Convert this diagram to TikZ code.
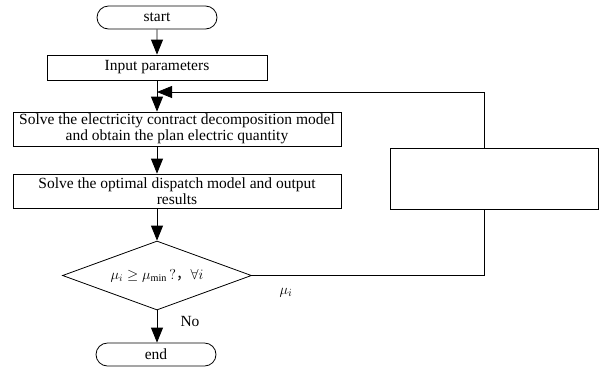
\documentclass[tikz,border=0pt]{standalone}
\usepackage{fontspec}
\setmainfont{Liberation Serif}
\newfontfamily\cjk{Noto Sans CJK SC}
\usetikzlibrary{arrows.meta,shapes.geometric,shapes.misc}
\begin{document}
\begin{tikzpicture}[x=1pt,y=-1pt,
  every node/.style={font=\fontsize{15.5}{16}\selectfont, inner sep=0pt},
  term/.style={draw, rounded rectangle, minimum width=120pt, minimum height=23pt, line width=0.8pt},
  procbox/.style={draw, rectangle, line width=0.8pt, align=center},
  decide/.style={draw, diamond, aspect=2.7, minimum width=189pt, minimum height=69pt, line width=0.8pt},
  conn/.style={line width=0.8pt},
  arr/.style={line width=0.8pt, -{Triangle[length=15pt,width=12pt]}}]
\useasboundingbox (0,0) rectangle (609,368);
\node[term] (start) at (157,17.5) {start};
\node[procbox, minimum width=220pt, minimum height=25pt] (input) at (157,67.5) {Input parameters};
\node[procbox, minimum width=328pt, minimum height=34pt] (solve1) at (177,129) {Solve the electricity contract decomposition model\\and obtain the plan electric quantity};
\node[procbox, minimum width=328pt, minimum height=34pt] (solve2) at (177,191) {Solve the optimal dispatch model and output\\results};
\node[decide, font=\fontsize{14.5}{16}\selectfont] (dec) at (157,275.5) {$\mu_i \geq \mu_{\min}\,?${\cjk ，}$\forall i$};
\node[term] (end) at (156,354.5) {end};
\node[procbox, minimum width=208pt, minimum height=61pt] (rbox) at (494,178.5) {};
\coordinate (merge) at (157,92);
\coordinate (rtop) at (484,92);
\coordinate (rbot) at (484,275.5);
\draw[arr] (start) -- (input);
\draw[arr] (input.south) -- (input.south |- solve1.north);
\draw[arr] (input.south |- solve1.south) -- (input.south |- solve2.north);
\draw[arr] (input.south |- solve2.south) -- (dec.north);
\draw[arr] (dec.south) -- (dec.south |- end.north);
\draw[conn] (dec.east) -- (rbot) -- (rbot |- rbox.south);
\draw[arr] (rbot |- rbox.north) -- (rtop) -- (merge);
\node (mu) at (286,293) {$\mu_i$};
\node (no) at (190,321) {No};
\end{tikzpicture}
\end{document}
